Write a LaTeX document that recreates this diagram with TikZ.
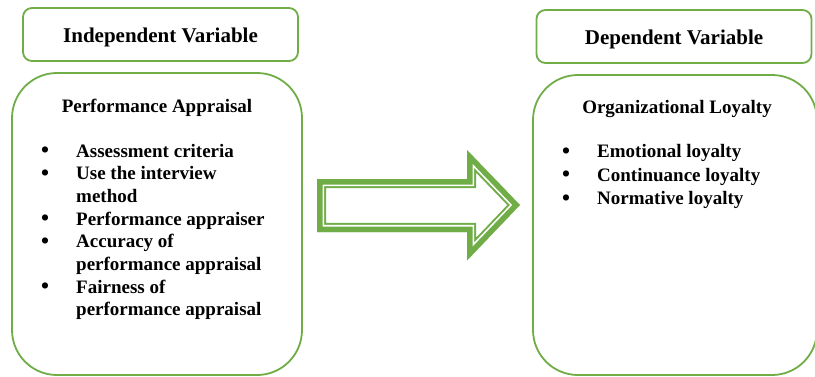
\documentclass[tikz,border=0pt]{standalone}
\usepackage{fontspec}
\setmainfont{Liberation Serif}
\usetikzlibrary{positioning}
\definecolor{officeGreen}{RGB}{112,173,71}

\begin{document}
\begin{tikzpicture}[x=1pt, y=-1pt,
headbox/.style={rectangle, rounded corners=9pt, draw=officeGreen, line width=1.8pt,
minimum width=275pt, minimum height=53pt, inner sep=0pt,
text height=17pt, text depth=1pt,
font=\fontsize{21}{25}\selectfont\bfseries},
bigbox/.style={rectangle, rounded corners=45pt, draw=officeGreen, line width=1.8pt,
inner sep=0pt},
title/.style={anchor=base, inner sep=0pt, font=\fontsize{19}{22.7}\selectfont\bfseries},
items/.style={anchor=base west, inner sep=0pt, font=\fontsize{19}{22.7}\selectfont\bfseries}]
\useasboundingbox (0,0) rectangle (815,376);
\def\blockarrow{(317,179) -- (467,179) -- (467,150) -- (520,205) -- (467,260.5)
  -- (467,232) -- (317,232) -- cycle}
\def\dotitem{\raisebox{-0.5pt}{\scalebox{1.2}{\textbullet}}}

\node[headbox] (indep) at (160.5,34.5) {Independent Variable};
\node[headbox] (dep)   at (674,36.5)   {Dependent Variable};

\node[bigbox, minimum width=290pt, minimum height=302pt] (appraisal) at (157,224) {};
\node[bigbox, minimum width=284pt, minimum height=300pt] (loyalty)   at (675,225) {};

\node[title] (appraisaltitle) at (157,112.5) {Performance Appraisal};
\node[title] (loyaltytitle)   at (677,113.5) {Organizational Loyalty};

\node[items] (appraisallist) at (41,157) {\begin{tabular}[t]{@{}p{35pt}@{}l@{}}
\dotitem & Assessment criteria\\
\dotitem & Use the interview\\
         & method\\
\dotitem & Performance appraiser\\
\dotitem & Accuracy of\\
         & performance appraisal\\
\dotitem & Fairness of\\
         & performance appraisal
\end{tabular}};
\node[items, font=\fontsize{19}{23.5}\selectfont\bfseries] (loyaltylist) at (562,157.5)
{\begin{tabular}[t]{@{}p{35pt}@{}l@{}}
\dotitem & Emotional loyalty\\
\dotitem & Continuance loyalty\\
\dotitem & Normative loyalty
\end{tabular}};

% double outlined block arrow
\begin{scope}
\clip \blockarrow;
\draw[officeGreen, line width=18.4pt] \blockarrow;
\draw[white, line width=14.4pt] \blockarrow;
\draw[officeGreen, line width=11pt] \blockarrow;
\end{scope}
\end{tikzpicture}
\end{document}
